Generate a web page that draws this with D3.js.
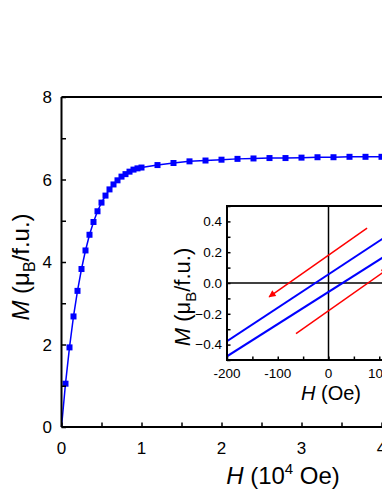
<!DOCTYPE html>
<html>
<head>
<meta charset="utf-8">
<script src="https://cdnjs.cloudflare.com/ajax/libs/d3/7.8.5/d3.min.js"></script>
<style>
  body { margin: 0; background: #fff; }
  svg { display: block; font-family: "Liberation Sans", Arial, sans-serif; }
</style>
</head>
<body>
<svg id="chart"></svg>
<script>
// Main curve: H (10^4 Oe) vs M (muB/f.u.)
const mainH = [0, 0.05, 0.1, 0.15, 0.2, 0.25, 0.3, 0.35, 0.4, 0.45, 0.5, 0.55, 0.6, 0.65, 0.7, 0.75, 0.8, 0.85, 0.9, 0.95, 1.0,
  1.2, 1.4, 1.6, 1.8, 2.0, 2.2, 2.4, 2.6, 2.8, 3.0, 3.2, 3.4, 3.6, 3.8, 4.0, 4.2, 4.4];
const mainM = [0, 1.05, 1.93, 2.68, 3.30, 3.83, 4.28, 4.66, 4.97, 5.23, 5.44, 5.61, 5.76, 5.88, 5.98, 6.07, 6.13, 6.19, 6.24, 6.27, 6.29,
  6.35, 6.40, 6.44, 6.46, 6.48, 6.50, 6.51, 6.52, 6.52, 6.53, 6.54, 6.54, 6.55, 6.55, 6.55, 6.56, 6.56];
const mainXTicks = [0, 1, 2, 3, 4, 5];
const mainYTicks = [0, 2, 4, 6, 8];

// Inset: H (Oe) vs M, two straight loop branches and two guide arrows
const loopUpper = [[-200, -0.378], [200, 0.49]];
const loopLower = [[-200, -0.476], [200, 0.36]];
const arrowDown = [[76, 0.357], [-117, -0.09]];
const arrowUp = [[-64, -0.328], [117, 0.091]];
const insetXTicks = [-200, -100, 0, 100, 200];
const insetYTicks = [-0.4, -0.2, 0.0, 0.2, 0.4];

const width = 382, height = 494;
const svg = d3.select("#chart").attr("width", width).attr("height", height);

// ---------- main panel ----------
const m = { left: 61.5, top: 97, bottom: 427 };
const x = d3.scaleLinear().domain([0, 5]).range([m.left, m.left + 400]);
const y = d3.scaleLinear().domain([0, 8]).range([m.bottom, m.top]);

const line = d3.line().x((d, i) => x(mainH[i])).y((d, i) => y(mainM[i]));
svg.append("path")
  .datum(mainM)
  .attr("d", line)
  .attr("fill", "none")
  .attr("stroke", "#0000ff")
  .attr("stroke-width", 1.5);

svg.selectAll(".sq")
  .data(mainM.slice(1))
  .enter()
  .append("rect")
  .attr("class", "sq")
  .attr("x", (d, i) => x(mainH[i + 1]) - 3)
  .attr("y", d => y(d) - 3)
  .attr("width", 6)
  .attr("height", 6)
  .attr("fill", "#0000ff");

// axes with inward ticks
const xAxis = svg.append("g")
  .attr("transform", `translate(0,${m.bottom})`)
  .call(d3.axisBottom(x).tickValues(d3.range(0, 5.01, 0.5)).tickSize(-4.5).tickFormat(""));
const yAxis = svg.append("g")
  .attr("transform", `translate(${m.left},0)`)
  .call(d3.axisLeft(y).tickValues(d3.range(0, 8.01, 1)).tickSize(-4.5).tickFormat(""));
[xAxis, yAxis].forEach(g => {
  g.select(".domain").attr("stroke", "#000").attr("stroke-width", 2);
  g.selectAll(".tick line").attr("stroke", "#000").attr("stroke-width", 1.5);
});
xAxis.select(".domain").attr("d", `M${m.left},0H${x(5)}`);
yAxis.select(".domain").attr("d", `M0,${m.bottom}V${m.top}`);

// top frame
svg.append("line")
  .attr("x1", x(0)).attr("x2", x(5))
  .attr("y1", y(8)).attr("y2", y(8))
  .attr("stroke", "#000").attr("stroke-width", 2);

svg.selectAll(".xl")
  .data(mainXTicks)
  .enter()
  .append("text")
  .attr("x", d => x(d))
  .attr("y", 454)
  .attr("text-anchor", "middle")
  .style("font-size", "17px")
  .text(d => d);

svg.selectAll(".yl")
  .data(mainYTicks)
  .enter()
  .append("text")
  .attr("x", 52)
  .attr("y", d => y(d))
  .attr("dy", "0.36em")
  .attr("text-anchor", "end")
  .style("font-size", "17px")
  .text(d => d);

// axis titles
const xt = svg.append("text")
  .attr("x", 283).attr("y", 484)
  .attr("text-anchor", "middle")
  .style("font-size", "24px");
xt.append("tspan").style("font-style", "italic").text("H");
xt.append("tspan").text(" (10");
xt.append("tspan").attr("dy", -10).style("font-size", "15px").text("4");
xt.append("tspan").attr("dy", 10).text(" Oe)");

const yt = svg.append("text")
  .attr("transform", "translate(29,267) rotate(-90)")
  .attr("text-anchor", "middle")
  .style("font-size", "24px");
yt.append("tspan").style("font-style", "italic").text("M");
yt.append("tspan").text(" (\u03bc");
yt.append("tspan").attr("dy", 6).style("font-size", "16px").text("B");
yt.append("tspan").attr("dy", -6).text("/f.u.)");

// ---------- inset ----------
const ins = { left: 227, top: 206, bottom: 360 };
const ix = d3.scaleLinear().domain([-200, 200]).range([ins.left, ins.left + 203]);
const iy = d3.scaleLinear().domain([-0.5, 0.5]).range([ins.bottom, ins.top]);

svg.append("rect")
  .attr("x", ix(-200)).attr("y", iy(0.5))
  .attr("width", ix(200) - ix(-200)).attr("height", iy(-0.5) - iy(0.5))
  .attr("fill", "#fff");

svg.append("clipPath").attr("id", "insClip")
  .append("rect")
  .attr("x", ix(-200)).attr("y", iy(0.5))
  .attr("width", ix(200) - ix(-200)).attr("height", iy(-0.5) - iy(0.5));

const plot = svg.append("g").attr("clip-path", "url(#insClip)");

// crosshair
plot.append("line")
  .attr("x1", ix(0)).attr("x2", ix(0)).attr("y1", iy(0.5)).attr("y2", iy(-0.5))
  .attr("stroke", "#000").attr("stroke-width", 1.5);
plot.append("line")
  .attr("x1", ix(-200)).attr("x2", ix(200)).attr("y1", iy(0)).attr("y2", iy(0))
  .attr("stroke", "#000").attr("stroke-width", 1.5);

const iline = d3.line().x(d => ix(d[0])).y(d => iy(d[1]));
[loopUpper, loopLower].forEach(seg => {
  plot.append("path")
    .attr("d", iline(seg))
    .attr("fill", "none")
    .attr("stroke", "#0000ff")
    .attr("stroke-width", 2);
});

svg.append("defs").append("marker")
  .attr("id", "arrowHead")
  .attr("viewBox", "0 0 10 10")
  .attr("refX", 9).attr("refY", 5)
  .attr("markerWidth", 9).attr("markerHeight", 7)
  .attr("markerUnits", "userSpaceOnUse")
  .attr("orient", "auto")
  .append("path")
  .attr("d", "M0,0L10,5L0,10Z")
  .attr("fill", "#ff0000");

[arrowDown, arrowUp].forEach(seg => {
  svg.append("path")
    .attr("d", iline(seg))
    .attr("fill", "none")
    .attr("stroke", "#ff0000")
    .attr("stroke-width", 1.5)
    .attr("marker-end", "url(#arrowHead)");
});

// inset frame and ticks
const ixAxis = svg.append("g")
  .attr("transform", `translate(0,${ins.bottom})`)
  .call(d3.axisBottom(ix).tickValues(d3.range(-200, 201, 50)).tickSize(-3.5).tickFormat(""));
const iyAxis = svg.append("g")
  .attr("transform", `translate(${ins.left},0)`)
  .call(d3.axisLeft(iy).tickValues(d3.range(-5, 6).map(v => v / 10)).tickSize(-3.5).tickFormat(""));
[ixAxis, iyAxis].forEach(g => {
  g.select(".domain").remove();
  g.selectAll(".tick line").attr("stroke", "#000").attr("stroke-width", 1.5);
});
svg.append("rect")
  .attr("x", ix(-200)).attr("y", iy(0.5))
  .attr("width", ix(200) - ix(-200)).attr("height", iy(-0.5) - iy(0.5))
  .attr("fill", "none")
  .attr("stroke", "#000")
  .attr("stroke-width", 2);

svg.selectAll(".ixl")
  .data(insetXTicks)
  .enter()
  .append("text")
  .attr("x", d => ix(d))
  .attr("y", 378)
  .attr("text-anchor", "middle")
  .style("font-size", "13.5px")
  .text(d => d);

svg.selectAll(".iyl")
  .data(insetYTicks)
  .enter()
  .append("text")
  .attr("x", 222)
  .attr("y", d => iy(d))
  .attr("dy", "0.36em")
  .attr("text-anchor", "end")
  .style("font-size", "13.5px")
  .text(d => d3.format(".1f")(d));

const ixt = svg.append("text")
  .attr("x", 331).attr("y", 400)
  .attr("text-anchor", "middle")
  .style("font-size", "20px");
ixt.append("tspan").style("font-style", "italic").text("H");
ixt.append("tspan").text(" (Oe)");

const iyt = svg.append("text")
  .attr("transform", "translate(190,297) rotate(-90)")
  .attr("text-anchor", "middle")
  .style("font-size", "22px");
iyt.append("tspan").style("font-style", "italic").text("M");
iyt.append("tspan").text(" (\u03bc");
iyt.append("tspan").attr("dy", 6).style("font-size", "15px").text("B");
iyt.append("tspan").attr("dy", -6).text("/f.u.)");
</script>
</body>
</html>
